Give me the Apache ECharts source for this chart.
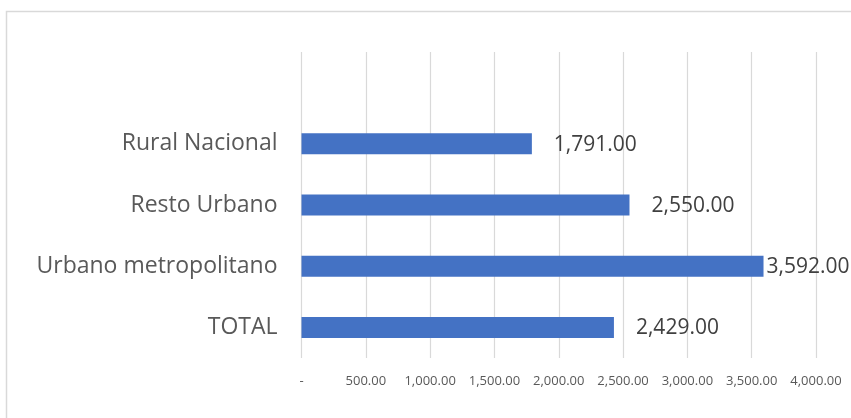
<!DOCTYPE html>
<html>
<head>
<meta charset="utf-8">
<script src="https://cdn.jsdelivr.net/npm/echarts@6/dist/echarts.min.js"></script>
<style>
  html, body { margin: 0; padding: 0; background: #fff; }
  #chart { width: 851px; height: 418px; }
</style>
</head>
<body>
<div id="chart"></div>
<script>
// Categories top to bottom (Excel leaves an empty slot at the top)
var categories = ['', 'Rural Nacional', 'Resto Urbano', 'Urbano metropolitano', 'TOTAL'];
var values = [null, 1791, 2550, 3592, 2429];
var tickLabels = ['-', '500.00', '1,000.00', '1,500.00', '2,000.00', '2,500.00', '3,000.00', '3,500.00', '4,000.00'];

function fmt(v) {
  return v.toLocaleString('en-US', { minimumFractionDigits: 2, maximumFractionDigits: 2 });
}

var maxVal = Math.max.apply(null, values.filter(function (v) { return v != null; }));
var seriesData = values.map(function (v) {
  if (v == null) return { value: null, label: { show: false } };
  return {
    value: v,
    label: { distance: v === maxVal ? 3 : 22 }
  };
});

var chart = echarts.init(document.getElementById('chart'), null, { renderer: 'canvas' });
chart.setOption({
  animation: false,
  backgroundColor: '#ffffff',
  graphic: [{
    type: 'rect',
    shape: { x: 6.5, y: 11.5, width: 900, height: 500 },
    style: { fill: 'none', stroke: '#d9d9d9', lineWidth: 1.5 },
    silent: true
  }],
  grid: { left: 301.5, right: 35, top: 52, bottom: 60, containLabel: false },
  xAxis: {
    type: 'value',
    min: 0,
    max: 4000,
    interval: 500,
    axisLine: { show: false },
    axisTick: { show: false },
    splitLine: { show: true, lineStyle: { color: '#d9d9d9', width: 1.2 } },
    axisLabel: {
      margin: 17,
      color: '#595959',
      fontFamily: 'Open Sans',
      fontSize: 13,
      formatter: function (v) { return tickLabels[Math.round(v / 500)]; }
    }
  },
  yAxis: {
    type: 'category',
    inverse: true,
    data: categories,
    axisLine: { show: false },
    axisTick: { show: false },
    splitLine: { show: false },
    axisLabel: {
      margin: 24,
      color: '#595959',
      fontFamily: 'Open Sans',
      fontSize: 23
    }
  },
  series: [{
    type: 'bar',
    data: seriesData,
    barWidth: 21,
    itemStyle: { color: '#4472C4' },
    label: {
      show: true,
      position: 'right',
      color: '#404040',
      fontFamily: 'Open Sans',
      fontSize: 21,
      offset: [0, 1],
      formatter: function (p) { return fmt(p.value); }
    }
  }]
});
</script>
</body>
</html>
